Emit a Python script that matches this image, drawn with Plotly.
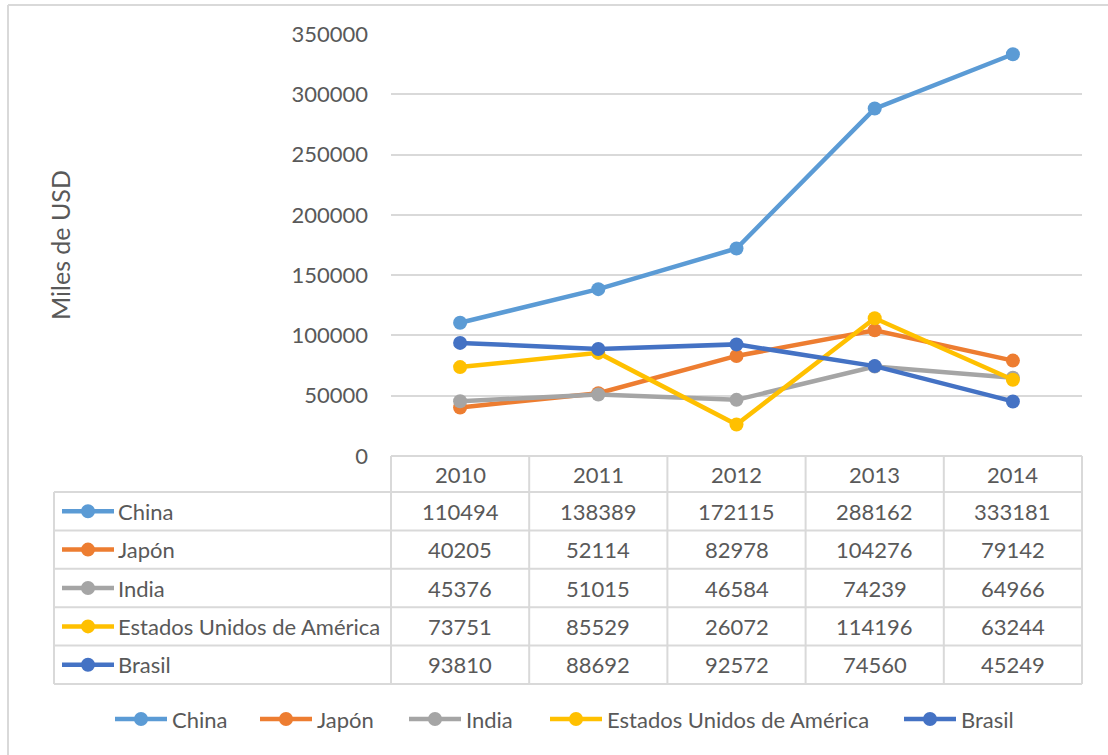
import plotly.graph_objects as go

years = ["2010", "2011", "2012", "2013", "2014"]
series_names = ["China", "Japón", "India", "Estados Unidos de América", "Brasil"]
china = [110494, 138389, 172115, 288162, 333181]
japon = [40205, 52114, 82978, 104276, 79142]
india = [45376, 51015, 46584, 74239, 64966]
eeuu = [73751, 85529, 26072, 114196, 63244]
brasil = [93810, 88692, 92572, 74560, 45249]
colors = ["#5B9BD5", "#ED7D31", "#A5A5A5", "#FFC000", "#4472C4"]
y_ticks = [0, 50000, 100000, 150000, 200000, 250000, 300000, 350000]
y_title = "Miles de USD"

values = [china, japon, india, eeuu, brasil]

W, H = 1108, 755
PL, PR, PT, PB = 391, 1082, 34, 456
PW, PH = PR - PL, PB - PT
FONT = "Lato"
TXT = "#595959"
GRID = "#D9D9D9"
FS = 22


def fx(px):
    return (px - PL) / PW


def fy(py):
    return (PB - py) / PH


fig = go.Figure()
for name, vals, col in zip(series_names, values, colors):
    fig.add_trace(go.Scatter(
        x=years, y=vals, name=name, mode="lines+markers",
        line=dict(color=col, width=4.5),
        marker=dict(color=col, size=14),
        showlegend=False,
    ))

shapes = []
annotations = []

# table geometry (pixels)
header_top = PB
row_top0 = 492
row_h = 38.4
table_left = 54
n_rows = len(series_names)
table_bottom = row_top0 + n_rows * row_h

line_style = dict(color=GRID, width=2)
for i in range(n_rows + 1):
    yy = fy(row_top0 + i * row_h)
    shapes.append(dict(type="line", xref="paper", yref="paper",
                       x0=fx(table_left), x1=1, y0=yy, y1=yy, line=line_style))
shapes.append(dict(type="line", xref="paper", yref="paper",
                   x0=0, x1=1, y0=0, y1=0, line=line_style))
shapes.append(dict(type="line", xref="paper", yref="paper",
                   x0=fx(table_left), x1=fx(table_left), y0=fy(row_top0), y1=fy(table_bottom), line=line_style))
for k in range(len(years) + 1):
    xx = k / len(years)
    shapes.append(dict(type="line", xref="paper", yref="paper",
                       x0=xx, x1=xx, y0=0, y1=fy(table_bottom), line=line_style))

# header (column index positions on the category axis)
for j, yr in enumerate(years):
    annotations.append(dict(x=j, y=fy((header_top + row_top0) / 2), xref="x", yref="paper",
                            text=yr, showarrow=False, font=dict(family=FONT, size=FS, color=TXT),
                            xanchor="center", yanchor="middle"))


def legend_key(cx, cy, col):
    shapes.append(dict(type="line", xref="paper", yref="paper", xsizemode="pixel", ysizemode="pixel",
                       xanchor=fx(cx), yanchor=fy(cy), x0=-26, x1=26, y0=0, y1=0,
                       line=dict(color=col, width=4.5)))
    shapes.append(dict(type="circle", xref="paper", yref="paper", xsizemode="pixel", ysizemode="pixel",
                       xanchor=fx(cx), yanchor=fy(cy), x0=-7, x1=7, y0=-7, y1=7,
                       fillcolor=col, line=dict(color=col, width=0)))


for i, (name, vals, col) in enumerate(zip(series_names, values, colors)):
    cy = row_top0 + (i + 0.5) * row_h
    legend_key(88, cy, col)
    annotations.append(dict(x=fx(116), y=fy(cy), xref="paper", yref="paper", text=name,
                            showarrow=False, xanchor="left", yanchor="middle",
                            font=dict(family=FONT, size=FS, color=TXT)))
    for j, v in enumerate(vals):
        annotations.append(dict(x=j, y=fy(cy), xref="x", yref="paper", text=str(v),
                                showarrow=False, xanchor="center", yanchor="middle",
                                font=dict(family=FONT, size=FS, color=TXT)))

# bottom legend
leg_y = 719
leg_key_x = [141, 286, 435, 576, 930]
for kx, name, col in zip(leg_key_x, series_names, colors):
    legend_key(kx, leg_y, col)
    annotations.append(dict(x=fx(kx + 29), y=fy(leg_y), xref="paper", yref="paper", text=name,
                            showarrow=False, xanchor="left", yanchor="middle",
                            font=dict(family=FONT, size=FS, color=TXT)))

# y-axis title
annotations.append(dict(x=fx(60), y=fy(245), xref="paper", yref="paper", text=y_title,
                        showarrow=False, textangle=-90, xanchor="center", yanchor="middle",
                        font=dict(family=FONT, size=25, color=TXT)))

# chart border (top and left visible)
shapes.append(dict(type="line", xref="paper", yref="paper", x0=fx(8), x1=fx(1108), y0=fy(5), y1=fy(5),
                   line=dict(color=GRID, width=2)))
shapes.append(dict(type="line", xref="paper", yref="paper", x0=fx(8), x1=fx(8), y0=fy(5), y1=fy(755),
                   line=dict(color=GRID, width=2)))

fig.update_layout(
    width=W, height=H,
    margin=dict(l=PL, r=W - PR, t=PT, b=H - PB, pad=0),
    paper_bgcolor="white", plot_bgcolor="white",
    showlegend=False,
    xaxis=dict(type="category", range=[-0.5, 4.5], showticklabels=False, showgrid=False,
               zeroline=False, showline=False, ticks=""),
    yaxis=dict(range=[0, 350000], tickvals=y_ticks, ticktext=[str(t) for t in y_ticks],
               showgrid=True, gridcolor=GRID, gridwidth=1.5, zeroline=False, showline=False,
               ticks="", ticklabelstandoff=22,
               tickfont=dict(family=FONT, size=FS, color=TXT)),
    shapes=shapes,
    annotations=annotations,
)

fig.write_html("out.html", config={"displayModeBar": False},
               post_script="document.body.style.margin='0';document.body.style.overflow='hidden';")
